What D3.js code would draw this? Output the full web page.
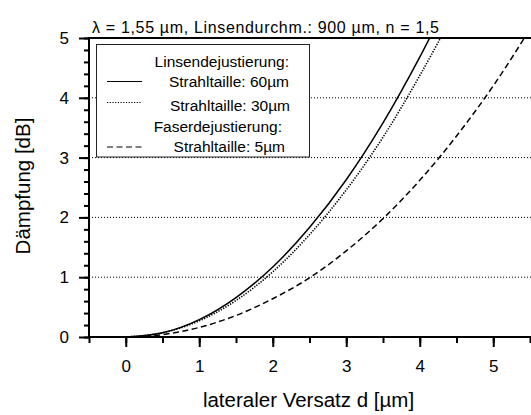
<!DOCTYPE html>
<html><head><meta charset="utf-8">
<script src="https://cdn.jsdelivr.net/npm/d3@7"></script>
<style>
body{margin:0;background:#fff;}
svg{display:block;font-family:"Liberation Sans",Arial,sans-serif;}
</style></head><body>
<script>
const dPts      = [0, 0.5, 1, 1.5, 2, 2.5, 3, 3.5, 4, 4.5];
const solid60   = [0, 0.07, 0.29, 0.66, 1.17, 1.83, 2.63, 3.58, 4.68, 5.9];
const dotted30  = [0, 0.07, 0.27, 0.61, 1.09, 1.71, 2.46, 3.34, 4.37, 5.5];
const dDashed   = [0, 0.5, 1, 1.5, 2, 2.5, 3, 3.5, 4, 4.5, 5, 5.5];
const dashed5   = [0, 0.04, 0.16, 0.36, 0.64, 0.99, 1.44, 1.98, 2.62, 3.36, 4.2, 5.15];
const xTicks = [0, 1, 2, 3, 4, 5];
const yTicks = [0, 1, 2, 3, 4, 5];
const gridVals = [1, 2, 3, 4];
const titleText = "λ = 1,55 µm,  Linsendurchm.: 900 µm, n = 1,5";
const xLabel = "lateraler Versatz d [µm]";
const yLabel = "Dämpfung [dB]";

const W = 531, H = 415;
const L = 89, R = 530, T = 38, B = 337;
const FF = "Liberation Sans, Arial, sans-serif";
const svg = d3.select("body").append("svg").attr("width", W).attr("height", H);
const x = d3.scaleLinear().domain([-0.5, 5.5]).range([L, R]);
const y = d3.scaleLinear().domain([0, 5]).range([B, T]);

svg.append("defs").append("clipPath").attr("id","clip")
  .append("rect").attr("x", L).attr("y", T).attr("width", W - L).attr("height", B - T);

// grid
svg.append("g").selectAll("line").data(gridVals).join("line")
  .attr("x1", L).attr("x2", W).attr("y1", d => y(d)).attr("y2", d => y(d))
  .attr("stroke", "#000").attr("stroke-width", 1).attr("stroke-dasharray", "1,2");

// top line
svg.append("line").attr("x1", L).attr("x2", W).attr("y1", y(5)).attr("y2", y(5))
  .attr("stroke", "#000").attr("stroke-width", 2);

// x axis
const xAxis = svg.append("g").attr("transform", `translate(0,${B})`);
xAxis.call(d3.axisBottom(x).tickValues(d3.range(-0.5, 5.51, 0.5)).tickSize(6).tickFormat(""))
  .call(g => g.select(".domain").remove())
  .call(g => g.selectAll("line").attr("stroke-width", 2));
xAxis.append("g").call(d3.axisBottom(x).tickValues(xTicks).tickSize(10).tickPadding(13).tickFormat(d3.format("d")))
  .call(g => g.select(".domain").remove())
  .call(g => g.selectAll("line").attr("stroke-width", 2))
  .call(g => g.selectAll("text").attr("font-size", 17).attr("font-family", FF).attr("fill","#000"));
svg.append("line").attr("x1", L - 1).attr("x2", W).attr("y1", B).attr("y2", B)
  .attr("stroke", "#000").attr("stroke-width", 2);

// y axis
const yAxis = svg.append("g").attr("transform", `translate(${L},0)`);
yAxis.call(d3.axisLeft(y).tickValues(d3.range(0, 5.01, 0.2)).tickSize(5).tickFormat(""))
  .call(g => g.select(".domain").remove())
  .call(g => g.selectAll("line").attr("stroke-width", 2));
yAxis.append("g").call(d3.axisLeft(y).tickValues(yTicks).tickSize(10).tickPadding(10).tickFormat(d3.format("d")))
  .call(g => g.select(".domain").remove())
  .call(g => g.selectAll("line").attr("stroke-width", 2))
  .call(g => g.selectAll("text").attr("font-size", 17).attr("font-family", FF).attr("fill","#000"));
svg.append("line").attr("x1", L).attr("x2", L).attr("y1", T - 1).attr("y2", B + 1)
  .attr("stroke", "#000").attr("stroke-width", 2);

// curves
const line = d3.line().x(d => x(d[0])).y(d => y(d[1])).curve(d3.curveMonotoneX);
const gC = svg.append("g").attr("clip-path", "url(#clip)");
gC.append("path").datum(d3.zip(dPts, solid60)).attr("d", line)
  .attr("fill", "none").attr("stroke", "#000").attr("stroke-width", 1.5);
gC.append("path").datum(d3.zip(dPts, dotted30)).attr("d", line)
  .attr("fill", "none").attr("stroke", "#000").attr("stroke-width", 1.6).attr("stroke-dasharray", "1.3,1.4");
gC.append("path").datum(d3.zip(dDashed, dashed5)).attr("d", line)
  .attr("fill", "none").attr("stroke", "#000").attr("stroke-width", 1.5).attr("stroke-dasharray", "6,3.5");

// legend
const lg = svg.append("g");
lg.append("rect").attr("x", 96.5).attr("y", 44.5).attr("width", 213).attr("height", 112.5)
  .attr("fill", "#fff").attr("stroke", "#222").attr("stroke-width", 1);
const legItems = [
  {t: "Linsendejustierung:", x: 289, y: 67},
  {t: "Strahltaille: 60µm", x: 289, y: 87, s: "", ly: 81.5},
  {t: "Strahltaille: 30µm", x: 290, y: 111, s: "1.2,1.5", ly: 102.5},
  {t: "Faserdejustierung:", x: 282, y: 132},
  {t: "Strahltaille: 5µm", x: 285, y: 152, s: "6,3.5", ly: 147}
];
legItems.forEach(it => {
  lg.append("text").attr("x", it.x).attr("y", it.y).attr("text-anchor", "end")
    .attr("font-size", 15.5).text(it.t);
  if (it.ly !== undefined) {
    lg.append("line").attr("x1", 107).attr("x2", 142).attr("y1", it.ly).attr("y2", it.ly)
      .attr("stroke", "#000").attr("stroke-width", 1.2).attr("stroke-dasharray", it.s || null);
  }
});

// titles
svg.append("text").attr("x", 92).attr("y", 32.5).attr("font-size", 16)
  .attr("textLength", 347).attr("lengthAdjust", "spacing").text(titleText);
svg.append("text").attr("x", 308.5).attr("y", 407).attr("text-anchor", "middle").attr("font-size", 20.5).text(xLabel);
svg.append("text").attr("transform", "translate(29.5,186) rotate(-90)").attr("text-anchor", "middle")
  .attr("font-size", 20.5).text(yLabel);
</script>
</body></html>
